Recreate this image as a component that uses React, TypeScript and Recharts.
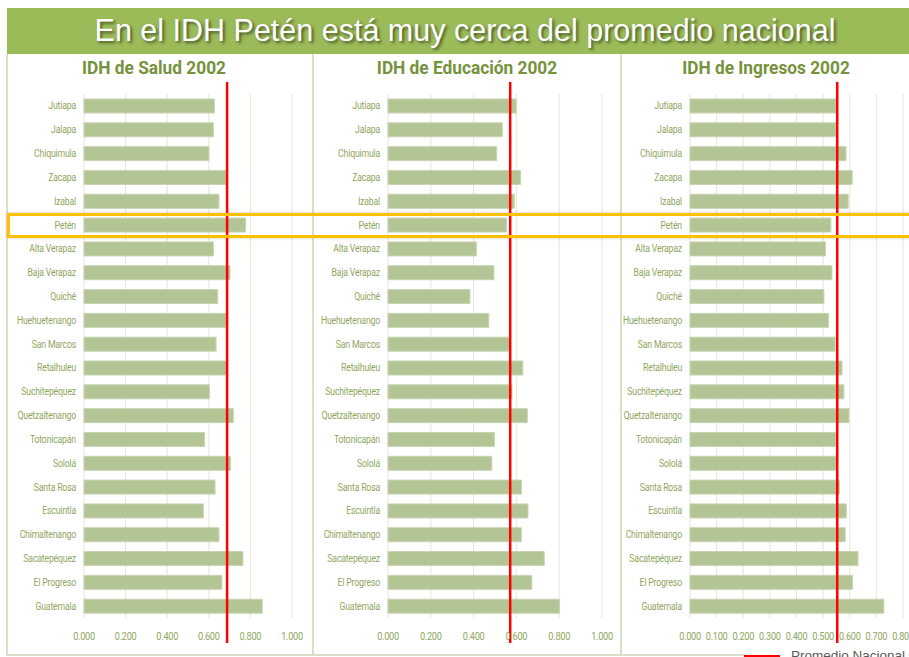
import { Bar, BarChart, CartesianGrid, ReferenceLine, XAxis, YAxis } from 'recharts';

const departments = [
  'Jutiapa', 'Jalapa', 'Chiquimula', 'Zacapa', 'Izabal', 'Petén', 'Alta Verapaz',
  'Baja Verapaz', 'Quiché', 'Huehuetenango', 'San Marcos', 'Retalhuleu', 'Suchitepéquez',
  'Quetzaltenango', 'Totonicapán', 'Sololá', 'Santa Rosa', 'Escuintla', 'Chimaltenango',
  'Sacatepéquez', 'El Progreso', 'Guatemala',
];

const salud = [
  0.627, 0.622, 0.601, 0.683, 0.649, 0.777, 0.622, 0.702, 0.643, 0.683, 0.635,
  0.686, 0.603, 0.718, 0.579, 0.705, 0.630, 0.574, 0.649, 0.764, 0.663, 0.857,
];

const educacion = [
  0.599, 0.534, 0.508, 0.620, 0.590, 0.554, 0.413, 0.495, 0.383, 0.471, 0.570,
  0.630, 0.579, 0.651, 0.497, 0.485, 0.624, 0.654, 0.623, 0.730, 0.672, 0.801,
];

const ingresos = [
  0.549, 0.549, 0.586, 0.609, 0.594, 0.529, 0.509, 0.533, 0.503, 0.520, 0.545,
  0.571, 0.578, 0.597, 0.548, 0.549, 0.561, 0.587, 0.583, 0.631, 0.610, 0.728,
];

const promedioSalud = 0.688;
const promedioEducacion = 0.571;
const promedioIngresos = 0.553;

const ticksUno = [0, 0.2, 0.4, 0.6, 0.8, 1];
const ticksIngresos = [0, 0.1, 0.2, 0.3, 0.4, 0.5, 0.6, 0.7, 0.8];

const rows = departments.map((name, i) => ({
  name,
  salud: salud[i],
  educacion: educacion[i],
  ingresos: ingresos[i],
}));

const labelFont = 'Roboto, "Liberation Sans", Arial, sans-serif';
const labelColor = '#8fa65f';
const borderColor = '#d9dfc9';

// plain svg ticks, squeezed a bit so they read like the narrow original font
const CategoryTick = ({ x, y, payload }: any) => (
  <g transform={`translate(${x},${y}) scale(0.87,1)`}>
    <text x={0} y={0} dy="0.35em" textAnchor="end" fontSize={10} letterSpacing={-0.2} fill={labelColor} fontFamily={labelFont}>
      {payload.value}
    </text>
  </g>
);

const ValueTick = ({ x, y, payload }: any) => (
  <g transform={`translate(${x},${y}) scale(0.92,1)`}>
    <text x={0} y={0} dy="0.71em" textAnchor="middle" fontSize={10} letterSpacing={-0.3} fill={labelColor} fontFamily={labelFont}>
      {Number(payload.value).toFixed(3)}
    </text>
  </g>
);

interface PanelProps {
  left: number;
  width: number;
  dataKey: string;
  domain: [number, number];
  ticks: number[];
  avg: number;
  marginLeft: number;
  marginRight: number;
}

function Panel({ left, width, dataKey, domain, ticks, avg, marginLeft, marginRight }: PanelProps) {
  return (
    <div style={{ position: 'absolute', left, top: 55 }}>
      <BarChart
        width={width}
        height={600}
        data={rows}
        layout="vertical"
        margin={{ top: 39, right: marginRight, left: marginLeft, bottom: 12 }}
      >
        <CartesianGrid horizontal={false} stroke="#e3e7d8" />
        <XAxis
          type="number"
          domain={domain}
          ticks={ticks}
          interval={0}
          axisLine={false}
          tickLine={false}
          tickMargin={9}
          height={25}
          tick={<ValueTick />}
        />
        <YAxis
          type="category"
          dataKey="name"
          width={70}
          interval={0}
          axisLine={false}
          tickLine={false}
          tick={<CategoryTick />}
        />
        <Bar dataKey={dataKey} fill="#b3c595" stroke="#c8d4b2" barSize={14} isAnimationActive={false} />
        <ReferenceLine
          x={avg}
          stroke="#ff0000"
          strokeWidth={2}
          shape={(p: any) => (
            <line
              x1={p.x1}
              x2={p.x2}
              y1={Math.min(p.y1, p.y2) - 12}
              y2={Math.max(p.y1, p.y2) + 25}
              stroke="#ff0000"
              strokeWidth={2.5}
            />
          )}
        />
      </BarChart>
    </div>
  );
}

const headingStyle: React.CSSProperties = {
  position: 'absolute',
  top: 57,
  width: 220,
  textAlign: 'center',
  fontFamily: labelFont,
  fontWeight: 'bold',
  fontSize: 18,
  color: '#76923c',
  transform: 'scaleX(0.96)',
};

export default function App() {
  return (
    <div
      style={{
        position: 'absolute',
        left: 0,
        top: 0,
        width: 909,
        height: 657,
        overflow: 'hidden',
        background: '#ffffff',
      }}
    >
      <div
        style={{
          position: 'absolute',
          left: 7,
          top: 8,
          width: 902,
          height: 46,
          background: '#9bbb59',
        }}
      />
      <div
        style={{
          position: 'absolute',
          left: 14,
          top: 8,
          width: 902,
          color: '#ffffff',
          fontFamily: '"Liberation Sans", Arial, sans-serif',
          fontSize: 30.5,
          lineHeight: '44px',
          textAlign: 'center',
          textShadow: '2px 2px 3px rgba(40,50,20,0.7)',
          whiteSpace: 'nowrap',
        }}
      >
        En el IDH Petén está muy cerca del promedio nacional
      </div>

      <div style={{ position: 'absolute', left: 6, top: 54, width: 2, height: 601, background: borderColor }} />
      <div style={{ position: 'absolute', left: 312, top: 54, width: 2, height: 601, background: borderColor }} />
      <div style={{ position: 'absolute', left: 620, top: 54, width: 2, height: 601, background: borderColor }} />
      <div style={{ position: 'absolute', left: 6, top: 654, width: 740, height: 2, background: borderColor }} />

      <div style={{ ...headingStyle, left: 44 }}>IDH de Salud 2002</div>
      <div style={{ ...headingStyle, left: 357 }}>IDH de Educación 2002</div>
      <div style={{ ...headingStyle, left: 656 }}>IDH de Ingresos 2002</div>

      <Panel left={7} width={304} dataKey="salud" domain={[0, 1]} ticks={ticksUno} avg={promedioSalud} marginLeft={7} marginRight={19} />
      <Panel left={313} width={304} dataKey="educacion" domain={[0, 1]} ticks={ticksUno} avg={promedioEducacion} marginLeft={5} marginRight={15} />
      <Panel left={620} width={289} dataKey="ingresos" domain={[0, 0.8]} ticks={ticksIngresos} avg={promedioIngresos} marginLeft={0} marginRight={6} />

      <div
        style={{
          position: 'absolute',
          left: 7,
          top: 213,
          width: 920,
          height: 19,
          border: '3px solid #ffc000',
          borderRight: 'none',
          boxShadow: '0 0 3px rgba(120,100,40,0.35)',
        }}
      />

      <div style={{ position: 'absolute', left: 744, top: 655, width: 36, height: 2, background: '#ff0000' }} />
      <div
        style={{
          position: 'absolute',
          left: 791,
          top: 648,
          fontFamily: '"Liberation Sans", Arial, sans-serif',
          fontSize: 13.5,
          color: '#595959',
          whiteSpace: 'nowrap',
        }}
      >
        Promedio Nacional
      </div>
    </div>
  );
}
